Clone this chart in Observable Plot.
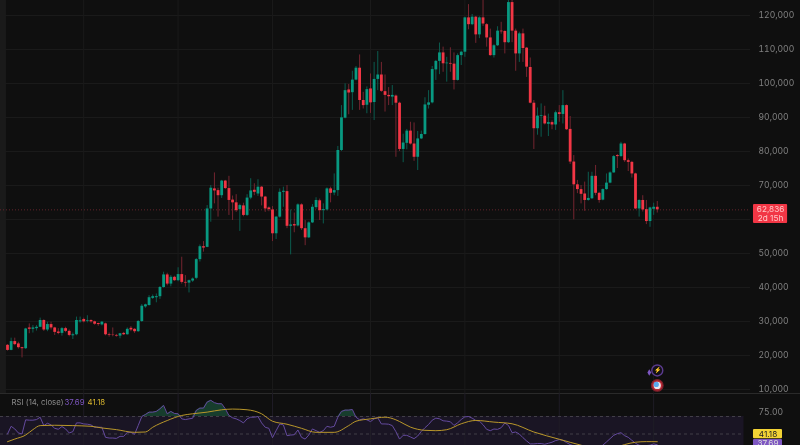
<!DOCTYPE html>
<html>
<head>
<meta charset="utf-8">
<script src="https://cdn.jsdelivr.net/npm/d3@7"></script>
<script src="https://cdn.jsdelivr.net/npm/@observablehq/plot@0.6"></script>
<style>
html,body{margin:0;padding:0;background:#0f0f0f;overflow:hidden}
#chart{width:800px;height:445px;overflow:hidden}
#chart svg{display:block;background:transparent;filter:blur(0.35px)}
</style>
</head>
<body>
<div id="chart"></div>
<script>
const opens=[
23000,21500,24100,23400,22300,22000,28100,27700,27900,28300,
30300,27500,29100,28100,26900,26500,27900,27100,25800,26100,
29900,30600,30100,30300,29900,29400,29000,29300,26100,26000,
25900,25700,26500,26100,28000,27700,27000,30000,34300,34700,
36800,37000,37300,40000,43700,41000,43000,42000,43800,41500,
41300,41900,42700,48200,52000,51800,63100,69000,68500,67000,
71300,69100,65700,64900,62900,64000,61200,66300,68600,67500,
69500,66600,63400,62800,55800,60700,68000,68200,58000,58500,
58100,64300,57300,54600,59000,63500,65500,62600,62800,69000,
67800,68500,80300,89800,98100,97300,101000,104500,95000,93600,
98400,94400,101200,102500,97600,96500,96000,96300,94200,80600,
82400,86000,82200,78300,83700,85000,93600,94300,104000,106500,
109000,105800,105900,105700,100900,108200,109200,119300,117300,119500,
114300,119300,117300,113400,108200,111100,115400,115300,112000,123800,
115400,108700,114600,110400,104700,94200,86700,90300,90400,88000,
88500,87800,91400,90900,93500,86500,76900,70200,68800,67500,
65600,66100,72700,67700,65700,68800,70700,73700,78800,78500,
82200,77300,76800,73400,63100,65600,62900,59400,63000,63600];
const highs=[
23200,25100,25100,23900,22400,28000,29300,28800,28800,31000,
30500,29800,29800,28300,27900,28200,28300,27500,26600,31300,
31300,31000,31700,30500,30100,29500,30000,29500,26600,28100,
26200,26500,26800,28100,28500,27900,30300,35000,35100,37600,
37800,38100,40300,44500,44200,43500,43300,45800,48900,43500,
42200,42800,48500,52500,53500,64100,70000,73700,69200,71500,
71500,72700,66900,67300,64500,64800,67300,72000,70500,71700,
69700,66800,63700,63800,60900,69000,69500,70000,62800,61900,
64600,64600,59700,59300,64400,66400,66000,64600,69300,69500,
73400,81500,93500,99900,99700,103600,105000,108400,97400,99000,
102800,106200,109400,106200,102500,98800,99400,96600,94500,85100,
86500,88600,88400,85900,86000,95800,97900,105000,106800,111900,
110700,107700,110500,109000,108700,109500,119500,123200,120300,119700,
119600,124500,117600,116000,111400,116700,118000,115500,124500,125000,
116000,115100,116000,110600,107500,95000,92800,94000,93300,91000,
89000,91900,93500,97900,93700,90300,78800,71500,70000,71000,
73900,73900,75900,68000,69000,73400,74000,78800,79100,82700,
82400,77800,77100,73600,65800,67000,65600,63600,64800,65300];
const lows=[
21300,21400,22900,21900,19300,21800,26400,26600,27200,28200,
27100,27000,27500,25900,26100,25700,26700,25500,24700,25800,
29500,29600,29600,29500,28900,28600,28700,25800,25400,25500,
25400,24900,25900,26000,27000,26500,26800,29700,33900,34500,
36500,35500,36500,39800,40500,40200,41800,41700,41000,40100,
38400,41500,42300,47500,50400,51700,59200,64600,60700,66200,
68800,61200,59700,62100,56500,60800,60900,65800,67000,66800,
64000,62100,62300,53500,54100,60400,63600,57300,49600,56100,
57800,56800,52300,54400,58800,63000,59700,58700,62500,64900,
67000,66800,80000,89600,90800,92100,100800,92100,92500,91100,
91200,89100,97900,97400,91600,93500,93500,78300,80000,76700,
80500,81900,77100,74400,83500,84800,92500,94000,100900,102600,
103300,100400,103300,98100,100700,105300,107700,115800,117000,111800,
113200,116800,110700,108000,107500,110900,114500,108700,111800,112000,
103600,106200,106200,101800,94000,80600,84800,84200,87800,84400,
86400,86200,88600,88100,86200,76200,59900,67600,64600,62400,
65400,65900,67000,64800,65500,68600,70500,73600,75000,78300,
76800,74100,72200,62900,60700,62200,58500,57700,61200,61900];
const closes=[
21500,24100,23200,22300,22000,27800,27700,28100,28300,30300,
27500,29100,28100,26800,26500,27900,27100,25900,26100,30300,
30200,29900,30300,29900,29200,29100,29800,26100,25900,25900,
25700,26400,26100,27700,27500,27000,30000,34500,34900,37000,
37300,37300,40000,43700,41000,43000,42000,43800,41500,41300,
42000,42500,48200,52000,51600,63100,69200,68400,67000,71300,
69100,65600,64900,62600,64100,61200,66300,68400,68000,69500,
66600,63100,62900,55800,60700,68000,68300,58000,58400,58100,
64300,57300,54600,59000,63600,65600,62600,62900,69000,67700,
68500,80300,89900,97900,97200,101000,104500,95000,93500,98200,
94300,101200,102500,97700,96500,96100,96500,94200,80600,82500,
86000,82200,78300,83700,85000,93700,94300,104100,106500,109000,
105800,106000,105700,100900,108200,109200,119300,117300,119500,114300,
119300,117500,113400,108200,111100,115400,115200,112000,123800,115400,
108700,114600,110300,104800,94200,86700,90400,90500,88100,88500,
87800,91400,90900,93500,86400,76900,70200,68800,67400,65600,
66200,72700,67700,65600,68800,70700,73700,78500,78500,82200,
77300,76800,73400,63100,65600,62800,59400,63400,63600,62836];

const rsiValues=[
50,58.8,55.8,51.2,50,66.2,65.8,65.8,66.5,69.2,
59.6,62.3,60.4,56.5,55.4,58.5,55.8,51.2,52.7,62.7,
62.7,61.5,61.2,60.4,57.7,57.7,57.7,46.2,45.4,45.4,
45,47.3,47.3,51.9,51.9,49.6,59.6,70,72.3,75,
75,75.8,78.8,82.7,73.1,75.8,73.5,73.1,67.3,66.5,
67.3,68,76.9,79.6,79.6,86.5,88.5,85.8,84.6,84.6,
78.8,71.2,68.5,67.3,65.4,62.7,67.3,69.2,69.2,70,
62.7,57.7,56.5,45.8,53.8,61.5,60.4,48.1,48.8,49.2,
54.6,46.2,44.2,48.8,55.8,53.8,51.9,53.8,58.8,57.7,
58.8,69.2,75.8,77.3,77.3,78,69.2,66.2,67.3,66.2,
64.2,67.3,68.5,61.5,61.5,61.2,59.6,52.7,44.2,
48.5,48.5,46.6,44.7,47.7,53,57.2,60.9,65.8,68.1,67.4,
65.1,64.7,64,59.8,62.8,66.6,69.6,70,68.1,65.5,
64.7,60.6,55.3,53.8,55.7,55.3,57.2,62.5,59.8,51.5,
52.3,50,45.8,42.1,38.7,38.7,39.1,39.1,38.3,39.4,
40.6,42.5,43.6,42.8,40.2,37.9,36.4,35.3,33.4,31.5,
31.5,32.6,34.2,35.3,37.2,40.9,44.7,48.5,50.4,51.5,
48.1,46.2,42.8,39.4,37.2,36.4,36.8,37.2,38.7,37.69];

const rsiMaIndex=[0,2,5,7,9,13,18,23,26,30,35,38,40,44,48,51,55,59,62,66,70,73,77,81,85,90,94,96,100,104,107,108,111,115,118,121,125,129,134,139,145,152,158,164,168,170,173,176,179];
const rsiMaValues=[41.2,44.2,48.8,55,59.6,60,59.6,58.8,56.9,55,51.9,52.3,57.7,65.4,71.2,73.1,75,77.7,78.5,77.7,73.1,64.6,61.2,56.5,51.9,51.9,59.6,64.6,67.3,69.2,66.2,64.3,57.9,54.2,53.8,54.9,61.7,65.5,63.6,61.7,52.3,44,37.2,31.5,35.3,37.9,40.6,41.3,41.18];

const gridPrices=[10000,20000,30000,40000,50000,60000,70000,80000,90000,100000,110000,120000];
const priceLabels=[10000,20000,30000,40000,50000,70000,80000,90000,100000,110000,120000];
const rsiTicks=[75];
const rsiGuides=[70,50];
const gridWeeks=[21,47,73,100,126,152,178];
const lastPrice=62836;
const countdown="2d 15h";
const rsiLast="37.69";
const maLast="41.18";

const GREEN="#089981",RED="#f23645",DIMG="#0b5c4f",DIMR="#752530";
const FONT="Inter, 'Noto Sans', sans-serif";
const xDomain=[-1.928,204.68];
const xOuter=208.5;

const candles=opens.map((o,i)=>({i,o,h:highs[i],l:lows[i],c:closes[i],up:closes[i]>=o}));
const rsi=rsiValues.map((v,i)=>({i,v}));
const ma=rsiMaIndex.map((i,k)=>({i,v:rsiMaValues[k]}));

const main=Plot.plot({
  width:800,height:393,marginTop:0,marginBottom:0,marginLeft:0,marginRight:50,
  style:{background:"transparent",fontFamily:FONT},
  x:{axis:null,domain:xDomain,range:[0,750]},
  y:{domain:[8824,124412],range:[393,0],label:null},
  marks:[
    Plot.rect([0],{x1:-1.928,x2:-0.28,y1:8824,y2:124412,fill:"#1a1a1a"}),
    Plot.ruleY(gridPrices,{stroke:"#1a1a1a",strokeWidth:1}),
    Plot.ruleX(gridWeeks,{stroke:"#1a1a1a",strokeWidth:1}),
    Plot.ruleY([lastPrice],{stroke:"#7a2a32",strokeWidth:0.8,strokeDasharray:"1,2"}),
    Plot.ruleX(candles,{x:"i",y1:"l",y2:"h",stroke:d=>d.up?DIMG:DIMR,strokeWidth:1,clip:true}),
    Plot.ruleX(candles,{x:"i",y1:"o",y2:"c",stroke:d=>d.up?GREEN:RED,strokeWidth:2.8,clip:true}),
    Plot.axisY(priceLabels,{anchor:"right",tickSize:0,tickPadding:8,fill:"#808080",fontSize:8.6,label:null,tickFormat:d3.format(",")}),
    Plot.rect([lastPrice],{x1:205.5,x2:214.9,y1:58800,y2:64400,fill:RED,clip:false,rx:1}),
    Plot.text([lastPrice],{x:210.2,y:64200,dy:4,text:d=>d3.format(",")(d),fill:"#ffc8c8",fontSize:8.2,textAnchor:"middle"}),
    Plot.text([countdown],{x:210.2,y:59300,dy:-3.5,text:d=>d,fill:"#ffc8c8",fontSize:8.2,textAnchor:"middle"}),
    Plot.dot([15600],{x:179,y:d=>d,r:5.5,fill:"#141018",stroke:"#5a3b8e",strokeWidth:1.4}),
    Plot.text([15600],{x:179,y:d=>d,text:()=>"⚡",fill:"#9d7fe0",fontSize:6}),
    Plot.dot([15600],{x:179,y:d=>d,dx:-8,dy:2,r:2,symbol:"diamond",fill:"#7e57c2"}),
    Plot.dot([11200],{x:179,y:d=>d,r:5.8,fill:"#bb2a36",stroke:"#7c1f2a",strokeWidth:1.2}),
    Plot.dot([11200],{x:179,y:d=>d,r:3.6,fill:"#e8e8f0"}),
    Plot.dot([11200],{x:179,y:d=>d,dx:-1,dy:-1,r:2.6,fill:"#5aa8ee"})
  ]
});

const pane=Plot.plot({
  width:800,height:52,marginTop:0,marginBottom:0,marginLeft:0,marginRight:50,
  style:{background:"transparent",fontFamily:FONT},
  x:{axis:null,domain:xDomain,range:[0,750]},
  y:{domain:[36.86,96.3],range:[52,0],label:null},
  marks:[
    Plot.ruleY([96.3],{x1:xDomain[0],x2:xOuter+10,stroke:"#2a2a2a",strokeWidth:1.2,clip:false}),
    Plot.rect([0],{x1:xDomain[0],x2:202.9,y1:36.86,y2:70,fill:"#1a1524"}),
    Plot.ruleX(gridWeeks,{stroke:"#1f1c26",strokeWidth:1}),
    Plot.ruleY(rsiGuides,{x1:xDomain[0],x2:202.9,stroke:"#4c4a52",strokeWidth:0.8,strokeDasharray:"3,3"}),
    Plot.areaY(rsi,{x:"i",y1:()=>70,y2:d=>Math.max(d.v,70),fill:"#1f6b4c",fillOpacity:0.5}),
    Plot.line(rsi,{x:"i",y:"v",stroke:"#644a9e",strokeWidth:1,clip:true}),
    Plot.line(ma,{x:"i",y:"v",stroke:"#b8962a",strokeWidth:1,curve:"monotone-x",clip:true}),
    Plot.axisY(rsiTicks,{anchor:"right",tickSize:0,tickPadding:8,fill:"#808080",fontSize:8.6,label:null,tickFormat:d=>d.toFixed(2)}),
    Plot.text(["RSI (14, close)"],{frameAnchor:"top-left",dx:11,dy:6,text:d=>d,fill:"#8a8a8a",fontSize:7.8,textAnchor:"start"}),
    Plot.text([rsiLast],{frameAnchor:"top-left",dx:64,dy:6,text:d=>d,fill:"#7e57c2",fontSize:7.8,textAnchor:"start"}),
    Plot.text([maLast],{frameAnchor:"top-left",dx:87,dy:6,text:d=>d,fill:"#d8b52e",fontSize:7.8,textAnchor:"start"}),
    Plot.rect([0],{x1:205.5,x2:213.5,y1:44.5,y2:55.1,fill:"#f2d335",clip:false,rx:1}),
    Plot.rect([0],{x1:205.5,x2:213.5,y1:32,y2:43.6,fill:"#7e57c2",clip:false,rx:1}),
    Plot.text([maLast],{x:209.5,y:49.9,text:d=>d,fill:"#222",fontSize:8.2,textAnchor:"middle"}),
    Plot.text([rsiLast],{x:209.5,y:39.6,text:d=>d,fill:"#ddd",fontSize:8.2,textAnchor:"middle"})
  ]
});
const host=document.getElementById("chart");
host.appendChild(main);
host.appendChild(pane);
</script>
</body>
</html>
